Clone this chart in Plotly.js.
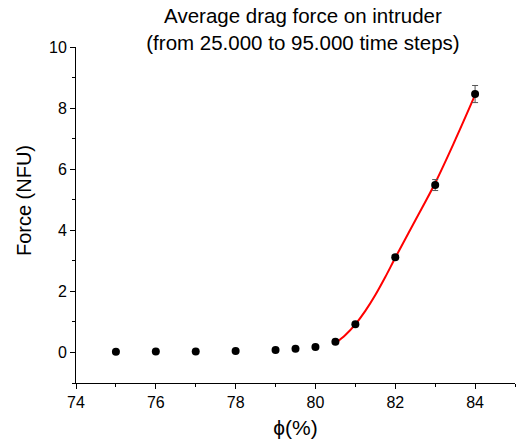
<!DOCTYPE html>
<html>
<head>
<meta charset="utf-8">
<script src="https://cdn.plot.ly/plotly-3.0.1.min.js"></script>
<style>html,body{margin:0;padding:0;background:#fff;}#chart{width:516px;height:441px;}</style>
</head>
<body>
<div id="chart"></div>
<script>
var phi = [75, 76, 77, 78, 79, 79.5, 80, 80.5, 81, 82, 83, 84];
var force = [0.02, 0.03, 0.03, 0.05, 0.08, 0.12, 0.18, 0.35, 0.92, 3.12, 5.48, 8.46];
var forceErr = [0, 0, 0, 0, 0, 0, 0, 0, 0.03, 0.05, 0.18, 0.28];
var fitPhi = [80.5, 80.75, 81, 81.25, 81.5, 81.75, 82, 82.5, 83, 83.5, 84];
var fitForce = [0.30, 0.57, 0.92, 1.36, 1.88, 2.47, 3.10, 4.32, 5.55, 6.95, 8.43];

var font = "Liberation Sans, Arial, sans-serif";
var traces = [
  {x: fitPhi, y: fitForce, mode: 'lines', type: 'scatter',
   line: {color: '#ff0000', width: 2, shape: 'spline', smoothing: 1}, hoverinfo: 'none'},
  {x: phi, y: force, mode: 'markers', type: 'scatter',
   marker: {color: '#000000', size: 8},
   error_y: {type: 'data', array: forceErr, visible: true, color: '#555555', thickness: 1, width: 3}}
];
var axisCommon = {
  showline: true, linecolor: '#000', linewidth: 1, mirror: false,
  ticks: 'outside', ticklen: 5, tickcolor: '#000', tickwidth: 1,
  showgrid: false, zeroline: false,
  tickfont: {family: font, size: 16, color: '#000'}
};
var layout = {
  width: 516, height: 441,
  margin: {l: 76, r: 1, t: 47, b: 58},
  paper_bgcolor: '#fff', plot_bgcolor: '#fff',
  showlegend: false,
  title: {text: 'Average drag force on intruder<br>(from 25.000 to 95.000 time steps)',
          font: {family: font, size: 20.5, color: '#000'},
          xref: 'paper', x: 0.517, xanchor: 'center',
          yref: 'container', y: 0.948, yanchor: 'top'},
  xaxis: Object.assign({}, axisCommon, {
    range: [74, 85], tickvals: [74, 76, 78, 80, 82, 84],
    minor: {tickvals: [75, 77, 79, 81, 83, 85], ticks: 'outside', ticklen: 3, tickcolor: '#000'},
    title: {text: 'ϕ(%)', font: {family: font, size: 21, color: '#000'}, standoff: 10}
  }),
  yaxis: Object.assign({}, axisCommon, {
    range: [-1, 10], tickvals: [0, 2, 4, 6, 8, 10],
    minor: {tickvals: [-1, 1, 3, 5, 7, 9], ticks: 'outside', ticklen: 3, tickcolor: '#000'}
  }),
  annotations: [
    {text: 'Force (NFU)', textangle: -90, showarrow: false,
     xref: 'paper', yref: 'paper', x: -0.118, y: 0.542, xanchor: 'center', yanchor: 'middle',
     font: {family: font, size: 20, color: '#000'}}
  ]
};
Plotly.newPlot('chart', traces, layout, {displayModeBar: false, staticPlot: true});
</script>
</body>
</html>
